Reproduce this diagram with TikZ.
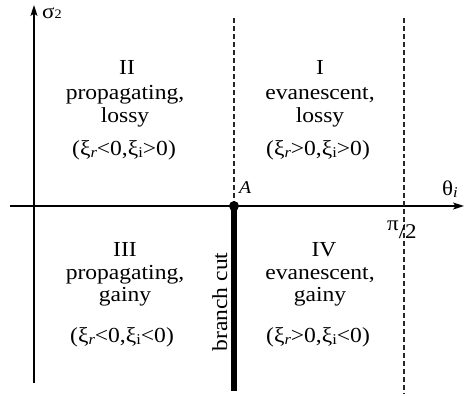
\documentclass[tikz,border=0pt]{standalone}
\usepackage{fontspec}
\setmainfont{Liberation Serif}[FakeStretch=1.1]
\usetikzlibrary{arrows.meta}
\newcommand{\lowsub}[1]{\raisebox{-0.3ex}{\fontsize{15}{15}\selectfont #1}}
\begin{document}
\begin{tikzpicture}[x=1bp,y=-1bp,
  lbl/.style={anchor=base,inner sep=0pt,font=\fontsize{21.5}{22}\selectfont},
  axis/.style={line width=1.4pt,-{Stealth[length=11pt,width=7pt,inset=2.5pt]}},
  dashline/.style={line width=1.1pt,dash pattern=on 5pt off 3pt,black!85}]
\useasboundingbox (0,0) rectangle (464,395);
% axes
\coordinate (vb) at (34,383);
\coordinate (vt) at (34,5);
\coordinate (hl) at (10,206);
\coordinate (hr) at (464,206);
\draw[axis] (vb) -- (vt);
\draw[axis] (hl) -- (hr);
% dashed lines
\coordinate (d1t) at (234,18);
\coordinate (A) at (234,206);
\coordinate (d2t) at (404,18);
\coordinate (d2b) at (404,393);
\coordinate (cutb) at (234,391);
\draw[dashline] (d1t) -- (A);
\draw[dashline] (d2t) -- (d2b);
% branch cut
\draw[line width=6.5pt] (A) -- (cutb);
\fill (A) circle (5);
% axis labels
\node[lbl,anchor=base west,font=\fontsize{21}{21}\selectfont] (sig) at (42,18) {σ\raisebox{-0.1ex}{\fontsize{13}{13}\selectfont 2}};
\node[lbl,anchor=base west,font=\fontsize{21}{21}\selectfont] (th) at (442,195) {θ\lowsub{\itshape i}};
\node[lbl,anchor=base west,font=\fontsize{18}{18}\selectfont\itshape] (Alab) at (239,193) {A};
\node[lbl,anchor=base west,font=\fontsize{21}{21}\selectfont] (pi) at (387,238) {\raisebox{8bp}{π}/2};
% region II
\node[lbl] (r2a) at (127,74) {II};
\node[lbl] (r2b) at (125,99) {propagating,};
\node[lbl] (r2c) at (125,122) {lossy};
\node[lbl] (r2d) at (124,155) {(ξ\lowsub{\itshape r}<0,ξ\lowsub{i}>0)};
% region I
\node[lbl] (r1a) at (320,74) {I};
\node[lbl] (r1b) at (320,99) {evanescent,};
\node[lbl] (r1c) at (320,122) {lossy};
\node[lbl] (r1d) at (318,155) {(ξ\lowsub{\itshape r}>0,ξ\lowsub{i}>0)};
% region III
\node[lbl] (r3a) at (125,256) {III};
\node[lbl] (r3b) at (125,279) {propagating,};
\node[lbl] (r3c) at (125,301) {gainy};
\node[lbl] (r3d) at (122,342) {(ξ\lowsub{\itshape r}<0,ξ\lowsub{i}<0)};
% region IV
\node[lbl] (r4a) at (324,256) {IV};
\node[lbl] (r4b) at (320,279) {evanescent,};
\node[lbl] (r4c) at (320,301) {gainy};
\node[lbl] (r4d) at (318,342) {(ξ\lowsub{\itshape r}>0,ξ\lowsub{i}<0)};
% branch cut label
\node[lbl,rotate=90,anchor=base] (bc) at (227,302) {branch cut};
\end{tikzpicture}
\end{document}
